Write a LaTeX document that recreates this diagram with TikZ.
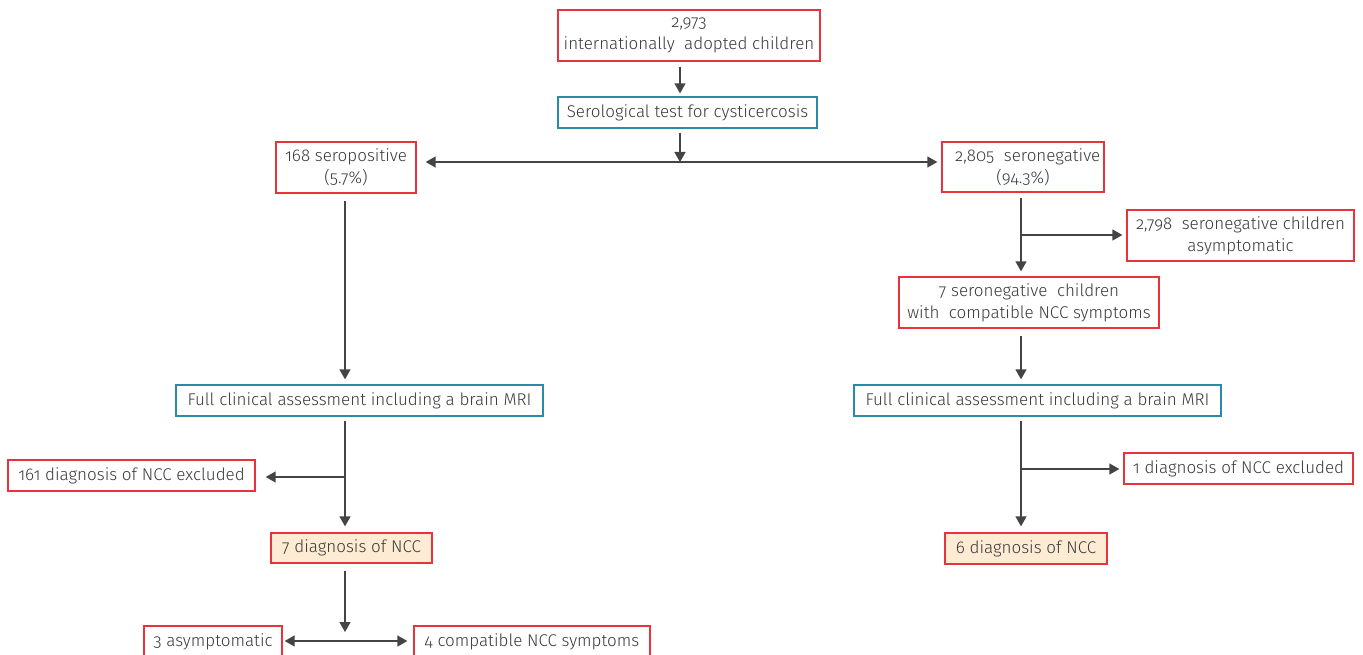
\documentclass[tikz,border=0pt]{standalone}
\usepackage{fontspec}
\setmainfont{Fira Sans Light}[Numbers=OldStyle]
\usetikzlibrary{arrows.meta}
\definecolor{redb}{HTML}{E8323C}
\definecolor{blueb}{HTML}{2A8BA8}
\definecolor{peach}{HTML}{FDEBD3}
\definecolor{txt}{HTML}{3A3A3A}
\definecolor{arrowgray}{HTML}{444444}
\tikzset{
  box/.style={draw=redb, line width=1.3pt, fill=white, inner sep=0pt, align=center, text=txt, font=\fontsize{17}{22}\selectfont},
  bbox/.style={box, draw=blueb},
  dbox/.style={box, fill=peach},
  arr/.style={draw=arrowgray, line width=1.4pt, -{Triangle[length=10pt,width=11pt]}},
  arrb/.style={draw=arrowgray, line width=1.4pt, {Triangle[length=10pt,width=11pt]}-{Triangle[length=10pt,width=11pt]}},
}
\begin{document}
\begin{tikzpicture}[x=1pt,y=-1pt]
\useasboundingbox (0,0) rectangle (1363,655);
\node[box, minimum width=262pt, minimum height=51pt] (top) at (689,35.5) {2,973\\internationally\ \ adopted children};
\node[bbox, minimum width=259pt, minimum height=31pt] (sero) at (687.5,112.5) {Serological test for cysticercosis};
\node[box, minimum width=140pt, minimum height=51pt] (pos) at (346,167.5) {168 seropositive\\(5.7\%)};
\node[box, minimum width=162pt, minimum height=50pt] (neg) at (1023,167) {\ \ 2,805\ \ seronegative\\(94.3\%)};
\node[box, minimum width=227pt, minimum height=51pt] (asy) at (1240.5,235.5) {2,798\ \ seronegative children\\asymptomatic};
\node[box, minimum width=260pt, minimum height=51pt] (sev) at (1029,302.5) {7 seronegative\ \ children\\with\ \ compatible NCC symptoms};
\node[bbox, minimum width=367pt, minimum height=31pt] (cl) at (359.5,400.5) {Full clinical assessment including a brain MRI};
\node[bbox, minimum width=367pt, minimum height=31pt] (cr) at (1037.5,400.5) {Full clinical assessment including a brain MRI};
\node[box, minimum width=247pt, minimum height=31pt] (exl) at (131.5,475.5) {161 diagnosis of NCC excluded};
\node[box, minimum width=229pt, minimum height=31pt] (exr) at (1238.5,468.5) {1 diagnosis of NCC excluded};
\node[dbox, minimum width=161pt, minimum height=30pt] (dl) at (351.5,548) {7 diagnosis of NCC};
\node[dbox, minimum width=162pt, minimum height=31pt] (dr) at (1026,548.5) {6 diagnosis of NCC};
\node[box, minimum width=138pt, minimum height=31pt] (a3) at (213,641.5) {3 asymptomatic};
\node[box, minimum width=236pt, minimum height=31pt] (c4) at (532,641.5) {4 compatible NCC symptoms};
% coordinates
\coordinate (cx) at (680,0);
\coordinate (h) at (680,162);
\coordinate (lx) at (345,0);
\coordinate (rx) at (1021,0);
\coordinate (bl) at (345,477);
\coordinate (br) at (1021,469);
\coordinate (ba) at (1021,235);
\coordinate (bb) at (345,641);
% connectors
\draw[arr, shorten <=5pt, shorten >=3pt] (top.south -| cx) -- (sero.north -| cx);
\draw[arr, shorten <=4pt] (sero.south -| cx) -- (h);
\draw[arrb, shorten <=9pt, shorten >=4pt] (pos.east |- h) -- (neg.west |- h);
\draw[arr, shorten <=7pt, shorten >=5pt] (pos.south -| lx) -- (cl.north -| lx);
\draw[arr, shorten <=4pt, shorten >=6pt] (cl.south -| lx) -- (dl.north -| lx);
\draw[arr, shorten >=10pt] (bl) -- (exl.east |- bl);
\draw[arr, shorten <=7pt] (dl.south -| lx) -- (bb |- 0,632);
\draw[arrb, shorten <=2pt, shorten >=6pt] (a3.east |- bb) -- (c4.west |- bb);
\draw[arr, shorten <=5pt, shorten >=5pt] (neg.south -| rx) -- (sev.north -| rx);
\draw[arr, shorten >=4pt] (ba) -- (asy.west |- ba);
\draw[arr, shorten <=7pt, shorten >=5pt] (sev.south -| rx) -- (cr.north -| rx);
\draw[arr, shorten <=4pt, shorten >=6pt] (cr.south -| rx) -- (dr.north -| rx);
\draw[arr, shorten >=4pt] (br) -- (exr.west |- br);
\end{tikzpicture}
\end{document}
